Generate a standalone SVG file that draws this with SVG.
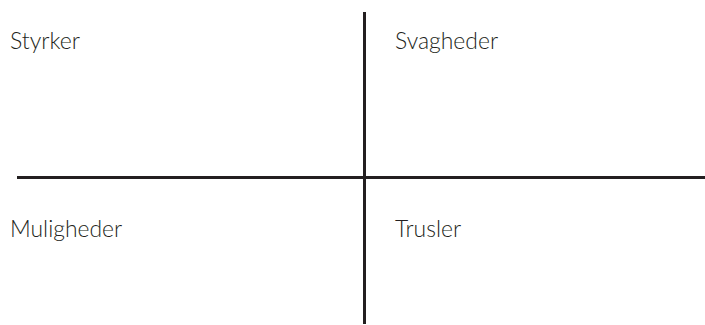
<svg xmlns="http://www.w3.org/2000/svg" width="705" height="325" viewBox="0 0 705 325">
  <style>
    .lbl { font-family: Lato, "Open Sans", "Liberation Sans", sans-serif; font-weight: 300; font-size: 24px; fill: #231f20; }
    .ax { stroke: #231f20; stroke-width: 3; fill: none; }
  </style>
  <rect width="705" height="325" fill="#ffffff"/>
  <g id="axes">
    <line class="ax" x1="364.5" y1="12" x2="364.5" y2="324"/>
    <line class="ax" x1="17" y1="177.5" x2="705" y2="177.5"/>
  </g>
  <g id="styrker"><text class="lbl" x="10" y="49.3" textLength="70" lengthAdjust="spacingAndGlyphs">Styrker</text></g>
  <g id="svagheder"><text class="lbl" x="395" y="49.3" textLength="103" lengthAdjust="spacingAndGlyphs">Svagheder</text></g>
  <g id="muligheder"><text class="lbl" x="10" y="237.3" textLength="112" lengthAdjust="spacingAndGlyphs">Muligheder</text></g>
  <g id="trusler"><text class="lbl" x="395" y="237.3" textLength="66" lengthAdjust="spacingAndGlyphs">Trusler</text></g>
</svg>
